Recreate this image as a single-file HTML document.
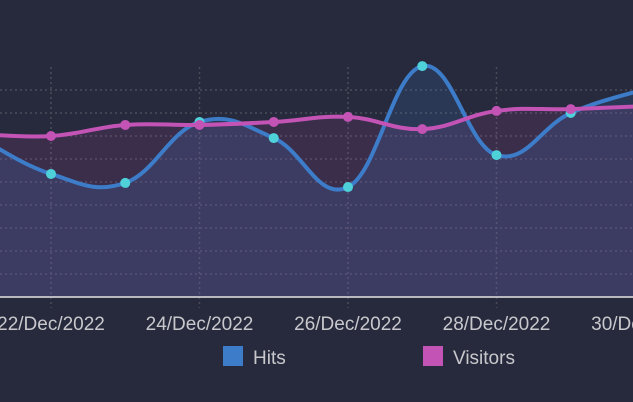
<!DOCTYPE html>
<html><head><meta charset="utf-8"><style>
html,body{margin:0;padding:0;background:#272a3d;width:633px;height:402px;overflow:hidden}
svg{display:block;font-family:"Liberation Sans",sans-serif}
</style></head><body>
<svg id="c" width="633" height="402"></svg>
<script>
const categories=["21/Dec/2022","22/Dec/2022","23/Dec/2022","24/Dec/2022","25/Dec/2022","26/Dec/2022","27/Dec/2022","28/Dec/2022","29/Dec/2022","30/Dec/2022"];
const hits=[700,535,496,761,691,478,1004,617,800,904];
const visitors=[709,700,748,748,761,783,730,809,817,830];
const tickLabels=["22/Dec/2022","24/Dec/2022","26/Dec/2022","28/Dec/2022","30/Dec/2022"];
const yTicks=[100,200,300,400,500,600,700,800,900];

const NS="http://www.w3.org/2000/svg";
const svg=document.getElementById('c');
const x0=-23.25,dx=74.25,yBase=297,ppu=0.23;
const X=i=>x0+i*dx;
const Y=v=>yBase-v*ppu;
function mk(t,a,p){const e=document.createElementNS(NS,t);for(const k in a)e.setAttribute(k,a[k]);(p||svg).appendChild(e);return e;}
function path(vals){
  const pts=vals.map((v,i)=>[X(i),Y(v)]);
  let d=`M${pts[0][0]},${pts[0][1]}`;
  for(let i=0;i<pts.length-1;i++){
    const p0=pts[Math.max(0,i-1)],p1=pts[i],p2=pts[i+1],p3=pts[Math.min(pts.length-1,i+2)];
    const t=0.2;
    d+=` C${p1[0]+(p2[0]-p0[0])*t},${p1[1]+(p2[1]-p0[1])*t} ${p2[0]-(p3[0]-p1[0])*t},${p2[1]-(p3[1]-p1[1])*t} ${p2[0]},${p2[1]}`;
  }
  return d;
}
yTicks.forEach(v=>{
  const g=mk('line',{x1:0,x2:633,y1:Y(v),y2:Y(v),stroke:'#4a4c5a','stroke-width':1.5,'stroke-dasharray':'2,3'});
  
  
});
tickLabels.forEach(lbl=>{
  const i=categories.indexOf(lbl);
  const g=mk('line',{x1:X(i),x2:X(i),y1:67,y2:308,stroke:'#4a4c5a','stroke-width':1.5,'stroke-dasharray':'2,3'});
  
  
  const t=mk('text',{x:X(i),y:330,'text-anchor':'middle',fill:'#c8c8cc','font-size':19});
  t.textContent=lbl;
  
  
});
const last=categories.length-1;
const ha=mk('path',{d:path(hits)+` L${X(last)},${yBase} L${X(0)},${yBase} Z`,fill:'rgba(61,124,201,0.18)'});

const va=mk('path',{d:path(visitors)+` L${X(last)},${yBase} L${X(0)},${yBase} Z`,fill:'rgba(195,83,181,0.12)'});

const ax=mk('line',{x1:0,x2:633,y1:yBase,y2:yBase,stroke:'#b8b8be','stroke-width':2});

const hl=mk('path',{d:path(hits),fill:'none',stroke:'#3d7cc9','stroke-width':4});

hits.forEach((v,i)=>{const c=mk('circle',{cx:X(i),cy:Y(v),r:5,fill:'#4fd1d9'});
});
const vl=mk('path',{d:path(visitors),fill:'none',stroke:'#c353b5','stroke-width':4});

visitors.forEach((v,i)=>{const c=mk('circle',{cx:X(i),cy:Y(v),r:5,fill:'#c353b5'});
});
const r1=mk('rect',{x:223,y:346,width:20,height:20,fill:'#3d7cc9'});

const t1=mk('text',{x:253,y:364,fill:'#c8c8cc','font-size':19});t1.textContent='Hits';

const r2=mk('rect',{x:423,y:346,width:20,height:20,fill:'#c353b5'});

const t2=mk('text',{x:453,y:364,fill:'#c8c8cc','font-size':19});t2.textContent='Visitors';

</script>
</body></html>
